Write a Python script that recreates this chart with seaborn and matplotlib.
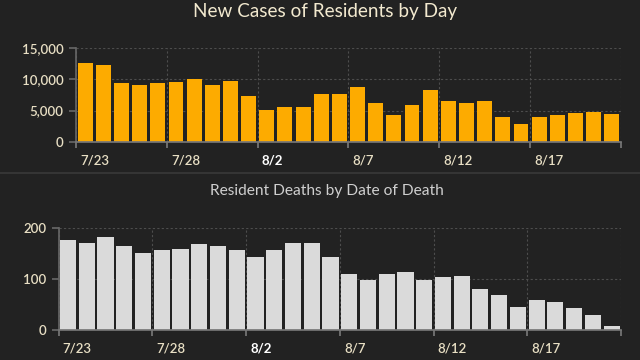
import matplotlib
matplotlib.use("Agg")
import matplotlib.pyplot as plt
import matplotlib.transforms as mtransforms
import pandas as pd
import seaborn as sns

# Dates 7/23 .. 8/21
dates = ['7/%d' % d for d in range(23, 32)] + ['8/%d' % d for d in range(1, 22)]

cases = [12600, 12250, 9350, 9030, 9350, 9500, 9980, 9030, 9670, 7240,
         5020, 5490, 5600, 7700, 7700, 8700, 6230, 4330, 5920, 8240,
         6440, 6230, 6440, 4010, 2850, 4010, 4330, 4650, 4810, 4490]

deaths = [176, 170, 182, 164, 151, 156, 158, 168, 164, 156,
          144, 156, 170, 170, 144, 110, 98, 110, 113, 98,
          104, 106, 80, 68, 46, 58, 54, 44, 30, 8]

tick_labels = ['7/23', '7/28', '8/2', '8/7', '8/12', '8/17']

bg = '#222222'
grid_c = '#4d4d4d'
label_c = '#e8dfc4'

sns.set_theme(style='dark')
plt.rcParams['font.family'] = ['Lato', 'DejaVu Sans']

fig = plt.figure(figsize=(6.4, 3.6), dpi=100, facecolor=bg)
ax1 = fig.add_axes([0.119, 0.606, 0.851, 0.261])
ax2 = fig.add_axes([0.0917, 0.0833, 0.8786, 0.2833])

df1 = pd.DataFrame({'date': dates, 'value': cases})
df2 = pd.DataFrame({'date': dates, 'value': deaths})

sns.barplot(data=df1, x='date', y='value', color='#fdab00', saturation=1,
            width=0.82, edgecolor='none', linewidth=0, ax=ax1)
sns.barplot(data=df2, x='date', y='value', color='#dadada', saturation=1,
            width=0.86, edgecolor='none', linewidth=0, ax=ax2)

for ax, ymax, yt, ylabs in [
    (ax1, 15000, [0, 5000, 10000, 15000], ['0', '5,000', '10,000', '15,000']),
    (ax2, 200, [0, 100, 200], ['0', '100', '200']),
]:
    ax.set_facecolor(bg)
    ax.set_xlim(-0.5, len(dates) - 0.5)
    ax.set_ylim(0, ymax)
    ax.set_xlabel('')
    ax.set_ylabel('')
    ax.set_yticks(yt)
    ax.set_yticklabels(ylabs)
    xt = [i - 0.5 for i in range(0, len(dates) + 1, 5)]
    ax.set_xticks(xt)
    ax.set_xticklabels(tick_labels + [''])
    ax.grid(True, color=grid_c, linestyle=(0, (2, 2)), linewidth=0.8)
    ax.set_axisbelow(True)
    for s in ['top', 'right']:
        ax.spines[s].set_visible(False)
    ax.spines['left'].set_color('#666666')
    ax.spines['bottom'].set_color('#777777')
    ax.tick_params(axis='y', length=5, color='#666666', labelcolor=label_c,
                   labelsize=9.5, pad=4, left=True)
    ax.tick_params(axis='x', length=4, color='#777777', labelcolor=label_c,
                   labelsize=9.5, pad=5, bottom=True)
    offset = mtransforms.ScaledTranslation(3 / 72, 0, fig.dpi_scale_trans)
    for lab in ax.get_xticklabels() + ax.get_yticklabels():
        lab.set_fontweight('semibold')
    for lab in ax.get_xticklabels():
        lab.set_horizontalalignment('left')
        lab.set_transform(lab.get_transform() + offset)
        if lab.get_text() == '8/2':
            lab.set_fontweight('bold')
            lab.set_color('white')

fig.text(0.508, 0.968, 'New Cases of Residents by Day', ha='center', va='center',
         color='#f2e9cf', fontsize=13.6)
fig.text(0.51, 0.469, 'Resident Deaths by Date of Death', ha='center', va='center',
         color='#cfcfcf', fontsize=11.2)

fig.add_artist(plt.Line2D([0, 1], [0.519, 0.519], color='#3a3a3a', linewidth=1.2))

fig.savefig('out.png', dpi=100, facecolor=bg)
